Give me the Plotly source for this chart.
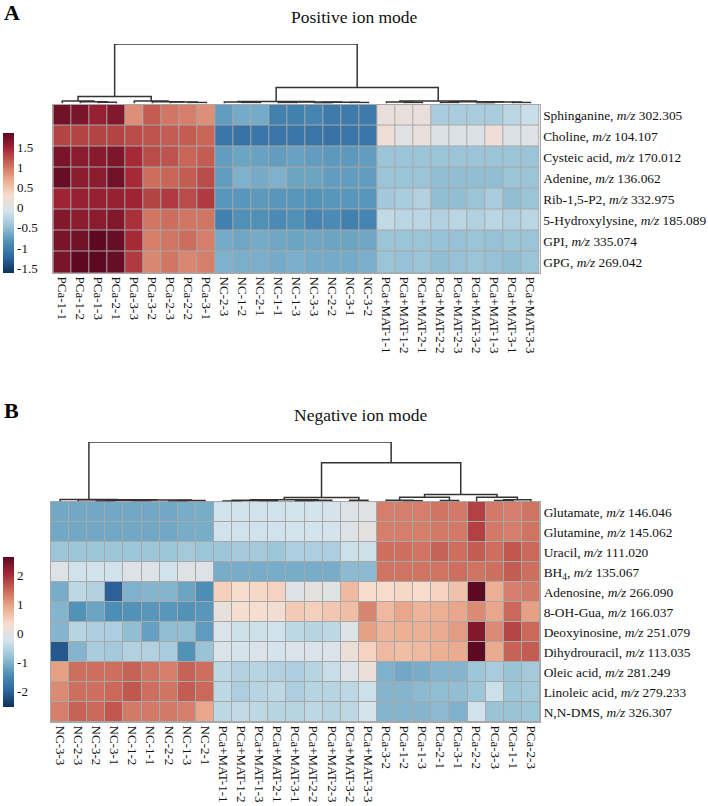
import colorsys
import plotly.graph_objects as go

# ---------------- DATA ----------------
samples_A = ["PCa-1-1", "PCa-1-2", "PCa-1-3", "PCa-2-1", "PCa-3-3", "PCa-3-2", "PCa-2-3", "PCa-2-2", "PCa-3-1",
             "NC-2-3", "NC-1-2", "NC-2-1", "NC-1-1", "NC-1-3", "NC-3-3", "NC-2-2", "NC-3-1", "NC-3-2",
             "PCa+MAT-1-1", "PCa+MAT-1-2", "PCa+MAT-2-1", "PCa+MAT-2-2", "PCa+MAT-2-3", "PCa+MAT-3-2",
             "PCa+MAT-1-3", "PCa+MAT-3-1", "PCa+MAT-3-3"]
metabolites_A = ["Sphinganine, <i>m/z</i> 302.305", "Choline, <i>m/z</i> 104.107", "Cysteic acid, <i>m/z</i> 170.012",
                 "Adenine, <i>m/z</i> 136.062", "Rib-1,5-P2, <i>m/z</i> 332.975", "5-Hydroxylysine, <i>m/z</i> 185.089",
                 "GPI, <i>m/z</i> 335.074", "GPG, <i>m/z</i> 269.042"]
values_A = [
    [1.75, 1.70, 1.55, 1.65, 0.85, 1.15, 1.00, 0.95, 0.85, -0.75, -0.65, -0.65, -1.00, -1.00, -0.95, -1.05, -1.05, -1.05, 0.15, 0.15, 0.15, -0.35, -0.35, -0.35, -0.35, -0.25, -0.15],
    [1.30, 1.30, 1.30, 1.30, 1.25, 1.20, 1.15, 1.15, 1.10, -1.10, -1.12, -1.10, -1.10, -1.10, -1.10, -1.12, -1.10, -1.10, 0.20, 0.05, 0.15, 0.00, 0.00, 0.00, 0.20, 0.00, 0.05],
    [1.70, 1.60, 1.62, 1.68, 1.45, 1.25, 1.20, 1.10, 1.15, -0.75, -0.70, -0.72, -0.75, -0.72, -0.75, -0.78, -0.78, -0.75, -0.45, -0.45, -0.45, -0.45, -0.45, -0.45, -0.45, -0.45, -0.45],
    [1.80, 1.60, 1.60, 1.75, 1.45, 1.05, 1.10, 1.15, 1.25, -0.75, -0.60, -0.65, -0.60, -0.70, -0.70, -0.75, -0.75, -0.75, -0.45, -0.45, -0.45, -0.50, -0.50, -0.50, -0.50, -0.45, -0.45],
    [1.50, 1.55, 1.55, 1.55, 1.50, 1.30, 1.35, 1.25, 1.35, -0.80, -0.80, -0.78, -0.80, -0.80, -0.82, -0.80, -0.80, -0.80, -0.40, -0.35, -0.30, -0.50, -0.50, -0.45, -0.35, -0.50, -0.45],
    [1.65, 1.60, 1.60, 1.65, 1.40, 1.00, 1.05, 1.00, 1.00, -1.00, -0.85, -0.85, -0.90, -0.85, -0.95, -0.90, -1.00, -0.95, -0.20, -0.25, -0.25, -0.30, -0.25, -0.30, -0.25, -0.30, -0.25],
    [1.70, 1.75, 1.85, 1.80, 1.45, 0.95, 1.00, 1.05, 0.95, -0.65, -0.68, -0.65, -0.68, -0.70, -0.68, -0.70, -0.70, -0.68, -0.45, -0.45, -0.45, -0.48, -0.48, -0.45, -0.48, -0.45, -0.45],
    [1.70, 1.85, 1.85, 1.80, 1.35, 0.90, 1.00, 0.90, 0.95, -0.60, -0.62, -0.62, -0.65, -0.62, -0.65, -0.65, -0.65, -0.62, -0.45, -0.48, -0.45, -0.50, -0.48, -0.45, -0.48, -0.50, -0.45],
]
# linkage rows: [child_a, child_b, height]; ids >= n refer to earlier merges
linkage_A = [
    [2, 3, 0.02], [1, 27, 0.03], [0, 28, 0.04],
    [7, 8, 0.015], [6, 30, 0.025], [5, 31, 0.03], [4, 32, 0.04],
    [29, 33, 0.117],
    [10, 11, 0.015], [9, 35, 0.025], [12, 13, 0.015], [14, 15, 0.01], [16, 17, 0.015],
    [38, 39, 0.02], [37, 40, 0.025], [36, 41, 0.035],
    [19, 20, 0.015], [18, 43, 0.025], [21, 22, 0.015], [23, 24, 0.01], [25, 26, 0.015],
    [46, 47, 0.025], [45, 48, 0.03], [44, 49, 0.04],
    [42, 50, 0.27],
    [34, 51, 1.0],
]
cbar_ticks_A = [-1.5, -1, -0.5, 0, 0.5, 1, 1.5]
cbar_text_A = ["-1.5", "-1", "-0.5", "0", "0.5", "1", "1.5"]
range_A = [-1.62, 1.85]

samples_B = ["NC-3-3", "NC-2-3", "NC-3-2", "NC-3-1", "NC-1-2", "NC-1-1", "NC-2-2", "NC-1-3", "NC-2-1",
             "PCa+MAT-1-1", "PCa+MAT-1-2", "PCa+MAT-1-3", "PCa+MAT-2-1", "PCa+MAT-3-1", "PCa+MAT-2-2",
             "PCa+MAT-2-3", "PCa+MAT-3-2", "PCa+MAT-3-3",
             "PCa-3-2", "PCa-1-2", "PCa-1-3", "PCa-2-1", "PCa-3-1", "PCa-2-2", "PCa-3-3", "PCa-1-1", "PCa-2-3"]
metabolites_B = ["Glutamate, <i>m/z</i> 146.046", "Glutamine, <i>m/z</i> 145.062", "Uracil, <i>m/z</i> 111.020",
                 "BH<sub>4</sub>, <i>m/z</i> 135.067", "Adenosine, <i>m/z</i> 266.090", "8-OH-Gua, <i>m/z</i> 166.037",
                 "Deoxyinosine, <i>m/z</i> 251.079", "Dihydrouracil, <i>m/z</i> 113.035", "Oleic acid, <i>m/z</i> 281.249",
                 "Linoleic acid, <i>m/z</i> 279.233", "N,N-DMS, <i>m/z</i> 326.307"]
values_B = [
    [-1.10, -1.10, -1.10, -1.10, -1.10, -1.10, -1.10, -1.05, -1.05, -0.25, -0.25, -0.25, -0.25, -0.22, -0.22, -0.20, -0.10, -0.05, 1.30, 1.30, 1.30, 1.40, 1.35, 1.85, 1.35, 1.30, 1.40],
    [-1.10, -1.10, -1.10, -1.10, -1.10, -1.10, -1.10, -1.05, -1.05, -0.25, -0.25, -0.25, -0.25, -0.22, -0.22, -0.20, -0.10, 0.00, 1.30, 1.30, 1.30, 1.35, 1.35, 1.85, 1.35, 1.30, 1.40],
    [-0.75, -0.75, -0.75, -0.75, -0.75, -0.75, -0.75, -0.70, -0.75, -0.75, -0.70, -0.70, -0.75, -0.60, -0.60, -0.60, -0.30, -0.30, 1.45, 1.45, 1.40, 1.55, 1.45, 1.60, 1.45, 1.65, 1.50],
    [-0.10, -0.25, -0.25, -0.25, -0.10, -0.10, -0.25, -0.05, -0.10, -1.05, -1.05, -1.05, -1.05, -1.05, -1.05, -1.05, -0.90, -0.90, 1.40, 1.40, 1.40, 1.40, 1.45, 1.40, 1.45, 1.60, 1.45],
    [-1.05, -0.45, -0.55, -2.00, -1.00, -0.95, -0.95, -1.15, -1.40, 0.50, 0.35, 0.40, 0.45, -0.10, 0.00, -0.05, 0.75, 0.35, 0.35, 0.40, 0.35, 0.45, 0.65, 2.65, 0.85, 1.30, 1.35],
    [-0.95, -1.35, -1.15, -1.40, -1.35, -1.30, -1.30, -1.35, -1.30, 0.10, 0.30, 0.30, 0.25, 0.55, 0.50, 0.60, 0.70, 1.25, 0.75, 0.95, 0.80, 0.85, 0.95, 1.20, 0.95, 1.50, 1.00],
    [-0.95, -0.50, -0.60, -0.60, -0.85, -1.20, -0.85, -0.85, -1.25, -0.15, -0.30, -0.30, -0.25, -0.45, -0.50, -0.45, -0.10, 1.00, 0.80, 0.85, 0.85, 0.90, 1.05, 2.35, 1.20, 1.80, 1.50],
    [-2.10, -0.95, -0.65, -0.70, -0.55, -0.55, -0.65, -1.35, -0.80, -0.15, -0.20, -0.15, -0.20, -0.15, -0.15, -0.15, 0.15, 0.45, 0.75, 0.70, 0.75, 0.85, 0.90, 2.65, 0.90, 1.55, 1.60],
    [1.00, 1.45, 1.45, 1.45, 1.55, 1.40, 1.30, 1.55, 1.45, -0.45, -0.55, -0.50, -0.55, -0.60, -0.50, -0.35, -0.10, 0.15, -1.00, -1.10, -1.05, -0.95, -0.95, -0.75, -0.65, -0.80, -0.70],
    [1.20, 1.45, 1.45, 1.50, 1.65, 1.45, 1.40, 1.60, 1.50, -0.45, -0.60, -0.50, -0.45, -0.60, -0.50, -0.50, -0.45, -0.30, -0.95, -0.95, -0.90, -0.85, -0.85, -0.75, -0.30, -0.75, -0.70],
    [1.30, 1.55, 1.50, 1.65, 1.35, 1.35, 1.35, 1.30, 0.95, -0.45, -0.40, -0.45, -0.50, -0.50, -0.45, -0.50, -0.45, -0.20, -0.95, -0.95, -0.95, -0.90, -1.00, -0.25, -0.80, -0.80, -0.75],
]
linkage_B = [
    [2, 3, 0.01], [4, 5, 0.012], [27, 28, 0.02], [6, 7, 0.01], [30, 8, 0.015], [29, 31, 0.025],
    [1, 32, 0.03], [0, 33, 0.035],
    [9, 10, 0.01], [11, 12, 0.012], [35, 36, 0.02], [13, 14, 0.012], [38, 15, 0.02], [37, 39, 0.03],
    [16, 17, 0.02], [40, 41, 0.067],
    [19, 20, 0.012], [18, 43, 0.02], [21, 22, 0.015], [44, 45, 0.07],
    [24, 25, 0.015], [47, 26, 0.03], [23, 48, 0.07], [46, 49, 0.117],
    [42, 50, 0.65],
    [34, 51, 1.0],
]
cbar_ticks_B = [-2, -1, 0, 1, 2]
cbar_text_B = ["-2", "-1", "0", "1", "2"]
range_B = [-2.52, 2.65]

title_A = "Positive ion mode"
title_B = "Negative ion mode"

# ---------------- STYLE ----------------
W, H = 708, 806
FONT = "Liberation Serif, Times New Roman, serif"
brewer = ["#053061", "#2166AC", "#4393C3", "#92C5DE", "#D1E5F0",
          "#FDDBC7", "#F4A582", "#D6604D", "#B2182B", "#67001F"]


def soften(hexc, k=0.82):
    r, g, b = (int(hexc[i:i + 2], 16) / 255 for i in (1, 3, 5))
    h, l, s = colorsys.rgb_to_hls(r, g, b)
    r, g, b = colorsys.hls_to_rgb(h, l, s * k)
    return "rgb(%d,%d,%d)" % (round(r * 255), round(g * 255), round(b * 255))


colorscale = [[i / (len(brewer) - 1), soften(c)] for i, c in enumerate(brewer)]
GRID = "#a8a8a8"


def px_x(p):
    return p / W


def px_y(p):
    return 1 - p / H


def dendro(linkage, n):
    xpos = {i: float(i) for i in range(n)}
    hpos = {i: 0.0 for i in range(n)}
    xs, ys = [], []
    for k, (a, b, h) in enumerate(linkage):
        xa, xb = xpos[a], xpos[b]
        xs += [xa, xa, xb, xb, None]
        ys += [hpos[a], h, h, hpos[b], None]
        xpos[n + k] = (xa + xb) / 2
        hpos[n + k] = h
    return xs, ys


fig = go.Figure()

panels = [
    dict(samples=samples_A, mets=metabolites_A, vals=values_A, link=linkage_A, rng=range_A,
         ticks=cbar_ticks_A, ttext=cbar_text_A, hx=(53.3, 539.5), hy=(104.5, 273), dy=(44, 103.5),
         cb=(133, 273), ca="coloraxis", ax="", dax="2"),
    dict(samples=samples_B, mets=metabolites_B, vals=values_B, link=linkage_B, rng=range_B,
         ticks=cbar_ticks_B, ttext=cbar_text_B, hx=(51, 540), hy=(502, 722), dy=(442, 501.5),
         cb=(557, 707), ca="coloraxis2", ax="3", dax="4"),
]

layout = dict(width=W, height=H, margin=dict(l=0, r=0, t=0, b=0, autoexpand=False),
              paper_bgcolor="white", plot_bgcolor="white", showlegend=False,
              font=dict(family=FONT, color="#111", size=13))
shapes = []
for p in panels:
    n = len(p["samples"])
    m = len(p["mets"])
    xa = "x" + p["ax"]
    ya = "y" + p["ax"]
    fig.add_trace(go.Heatmap(z=p["vals"], x=list(range(n)), y=list(range(m)),
                             coloraxis=p["ca"], xgap=1, ygap=1, hoverinfo="skip",
                             xaxis=xa, yaxis=ya))
    shapes.append(dict(type="rect", xref=xa, yref=ya, x0=-0.5, x1=n - 0.5, y0=-0.5, y1=m - 0.5,
                       fillcolor=GRID, line=dict(width=0), layer="below"))
    xs, ys = dendro(p["link"], n)
    fig.add_trace(go.Scatter(x=xs, y=ys, mode="lines", line=dict(color="#333333", width=1.5),
                             hoverinfo="skip", cliponaxis=False,
                             xaxis="x" + p["dax"], yaxis="y" + p["dax"]))
    kx = "xaxis" + p["ax"]
    ky = "yaxis" + p["ax"]
    layout[kx] = dict(domain=[px_x(p["hx"][0]), px_x(p["hx"][1])], range=[-0.5, n - 0.5],
                      tickvals=list(range(n)), ticktext=p["samples"], tickangle=90,
                      ticks="", showgrid=False, zeroline=False, showline=True, mirror=True,
                      linecolor=GRID, linewidth=1, automargin=False,
                      tickfont=dict(size=13, family=FONT, color="#111"),
                      anchor=ya)
    layout[ky] = dict(domain=[px_y(p["hy"][1]), px_y(p["hy"][0])], range=[m - 0.5, -0.5],
                      tickvals=list(range(m)), ticktext=p["mets"], side="right",
                      ticks="", showgrid=False, zeroline=False, showline=True, mirror=True,
                      linecolor=GRID, linewidth=1, automargin=False,
                      tickfont=dict(size=13.4, family=FONT, color="#111"),
                      anchor=xa)
    layout["xaxis" + p["dax"]] = dict(domain=[px_x(p["hx"][0]), px_x(p["hx"][1])], automargin=False,
                                      range=[-0.5, n - 0.5], visible=False, anchor="y" + p["dax"])
    layout["yaxis" + p["dax"]] = dict(domain=[px_y(p["dy"][1]), px_y(p["dy"][0])], automargin=False,
                                      range=[0, 1.0], visible=False, anchor="x" + p["dax"])
    layout[p["ca"]] = dict(colorscale=colorscale, cmin=p["rng"][0], cmax=p["rng"][1],
                           colorbar=dict(x=px_x(3), xanchor="left", thickness=11, thicknessmode="pixels",
                                         len=(p["cb"][1] - p["cb"][0]) / H, lenmode="fraction",
                                         y=px_y(p["cb"][1]), yanchor="bottom", outlinewidth=0,
                                         tickvals=p["ticks"], ticktext=p["ttext"], ticks="",
                                         tickfont=dict(size=13, family=FONT, color="#111"),
                                         xpad=0, ypad=0))

annotations = [
    dict(text="<b>A</b>", x=px_x(2), y=px_y(12), xref="paper", yref="paper", xanchor="left",
         yanchor="middle", showarrow=False, font=dict(size=22, family=FONT, color="#000")),
    dict(text="<b>B</b>", x=px_x(2), y=px_y(410), xref="paper", yref="paper", xanchor="left",
         yanchor="middle", showarrow=False, font=dict(size=22, family=FONT, color="#000")),
    dict(text=title_A, x=px_x(354), y=px_y(17), xref="paper", yref="paper", xanchor="center",
         yanchor="middle", showarrow=False, font=dict(size=17.5, family=FONT, color="#111")),
    dict(text=title_B, x=px_x(360), y=px_y(415), xref="paper", yref="paper", xanchor="center",
         yanchor="middle", showarrow=False, font=dict(size=17.5, family=FONT, color="#111")),
]
layout["annotations"] = annotations
layout["shapes"] = shapes
fig.update_layout(**layout)
fig.write_html("out.html")
